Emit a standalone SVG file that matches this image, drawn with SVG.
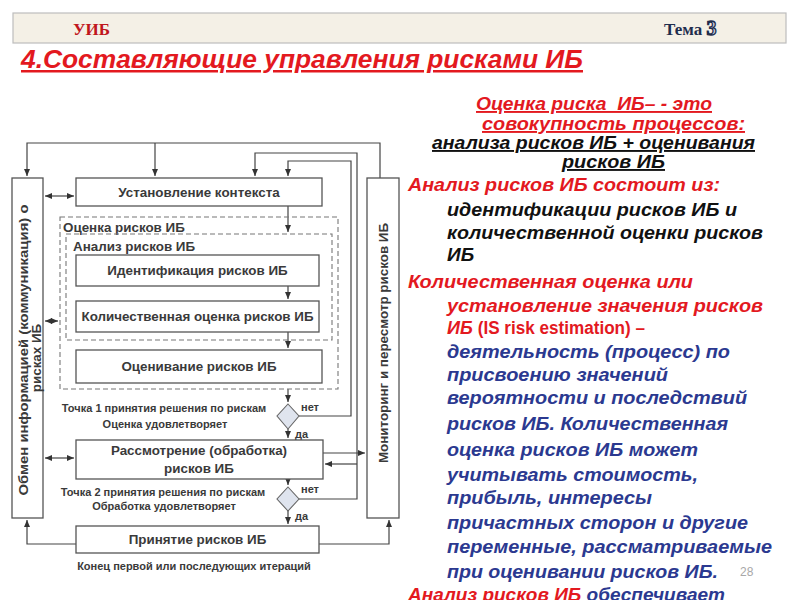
<svg xmlns="http://www.w3.org/2000/svg" width="800" height="600" viewBox="0 0 800 600">
<style>
.bx{fill:#fff;stroke:#555;stroke-width:1.3}
.dash{fill:none;stroke:#777;stroke-width:1.1;stroke-dasharray:5,3}
.dia{fill:#dfe4ee;stroke:#666;stroke-width:1.1}
.t{font-family:"Liberation Sans",Arial,sans-serif;font-weight:bold;fill:#3a3a3a;font-size:13.4px}
.c{text-anchor:middle}
.s{font-family:"Liberation Sans",Arial,sans-serif;font-weight:bold;fill:#3a3a3a;font-size:11px}
.ln{fill:none;stroke:#444;stroke-width:1.2}
.r{font-family:"Liberation Sans",Arial,sans-serif;font-weight:bold;font-style:italic;font-size:19px}
.red{fill:#e3191f}
.blk{fill:#111}
.blu{fill:#2b3990}
.u{text-decoration:underline}
</style>
<defs>
<marker id="ah" markerWidth="8" markerHeight="8" refX="7" refY="4" orient="auto-start-reverse" markerUnits="userSpaceOnUse">
<path d="M0,1 L7,4 L0,7 z" fill="#333"/>
</marker>
</defs>
<rect width="800" height="600" fill="#fff"/>

<g id="header">
<rect x="13" y="13" width="773" height="30" fill="#f4f0e6" stroke="#bdbdbd" stroke-width="1.2"/>
<text x="73" y="35" font-family="Liberation Serif,serif" font-weight="bold" font-size="17" fill="#c0161c">УИБ</text>
<text x="664" y="35" font-family="Liberation Serif,serif" font-weight="bold" font-size="17" fill="#1f2d4d">Тема <tspan font-size="20" fill="#c9d3e6" stroke="#1f2d4d" stroke-width="1.3">3</tspan></text>
</g>

<g id="title">
<text x="21" y="68" font-family="Liberation Sans,Arial,sans-serif" font-weight="bold" font-style="italic" font-size="25" fill="#e3191f" text-decoration="underline" textLength="562" lengthAdjust="spacingAndGlyphs">4.Составляющие управления рисками ИБ</text>
</g>

<g id="connectors">
<path class="ln" d="M380,178 V143 H27 V176" marker-end="url(#ah)"/>
<path class="ln" d="M155,143 V176" marker-end="url(#ah)"/>
<path class="ln" d="M299,416 H351 V161 H288 V176" marker-end="url(#ah)"/>
<path class="ln" d="M299,499 H357 V153 H255 V176" marker-end="url(#ah)"/>
<path class="ln" d="M357,464 H325" marker-end="url(#ah)"/>
<path class="ln" d="M45,196 H74" marker-start="url(#ah)" marker-end="url(#ah)"/>
<path class="ln" d="M45,321 H58" marker-start="url(#ah)" marker-end="url(#ah)"/>
<path class="ln" d="M45,458 H74" marker-start="url(#ah)" marker-end="url(#ah)"/>
<path class="ln" d="M288,206 V232" marker-end="url(#ah)"/>
<path class="ln" d="M288,286 V299" marker-end="url(#ah)"/>
<path class="ln" d="M288,332 V348" marker-end="url(#ah)"/>
<path class="ln" d="M288,389 V402" marker-end="url(#ah)"/>
<path class="ln" d="M288,429 V438" marker-end="url(#ah)"/>
<path class="ln" d="M288,479 V485" marker-end="url(#ah)"/>
<path class="ln" d="M288,511 V524" marker-end="url(#ah)"/>
<path class="ln" d="M323,453 H365" marker-end="url(#ah)"/>
<path class="ln" d="M76,544 H27 V520" marker-end="url(#ah)"/>
<path class="ln" d="M319,544 H389 V520" marker-end="url(#ah)"/>
</g>

<g id="comm">
<rect class="bx" x="12" y="178" width="31" height="340"/>
<text class="t c" transform="translate(28,350) rotate(-90)" textLength="291" lengthAdjust="spacingAndGlyphs">Обмен информацией (коммуникация) о</text>
<text class="t c" transform="translate(41,358) rotate(-90)">рисках ИБ</text>
</g>

<g id="monitor">
<rect class="bx" x="367" y="178" width="32" height="340"/>
<text class="t c" transform="translate(388,343) rotate(-90)">Мониторинг и пересмотр рисков ИБ</text>
</g>

<g id="context">
<rect class="bx" x="76" y="178" width="246" height="28"/>
<text class="t c" x="199" y="196.5">Установление контекста</text>
</g>

<g id="assessment">
<rect class="dash" x="60" y="217" width="278" height="172"/>
<text class="t" x="63" y="232">Оценка рисков ИБ</text>
</g>

<g id="analysis">
<rect class="dash" x="66" y="234" width="266" height="106"/>
<text class="t" x="73" y="251">Анализ рисков ИБ</text>
</g>

<g id="ident">
<rect class="bx" x="76" y="255" width="243" height="31"/>
<text class="t c" x="197.5" y="275">Идентификация рисков ИБ</text>
</g>

<g id="quant">
<rect class="bx" x="76" y="301" width="243" height="31"/>
<text class="t c" x="197.5" y="321">Количественная оценка рисков ИБ</text>
</g>

<g id="evaluation">
<rect class="bx" x="76" y="350" width="246" height="33"/>
<text class="t c" x="199" y="371">Оценивание рисков ИБ</text>
</g>

<g id="decision1">
<polygon class="dia" points="288,404 299,416 288,429 277,416"/>
<text class="s c" x="164" y="412">Точка 1 принятия решения по рискам</text>
<text class="s c" x="165" y="428">Оценка удовлетворяет</text>
<text class="s" x="301" y="411">нет</text>
<text class="s" x="295" y="438">да</text>
</g>

<g id="treatment">
<rect class="bx" x="76" y="440" width="247" height="39"/>
<text class="t c" x="199" y="455">Рассмотрение (обработка)</text>
<text class="t c" x="199" y="473">рисков ИБ</text>
</g>

<g id="decision2">
<polygon class="dia" points="288,487 299,499 288,511 277,499"/>
<text class="s c" x="163" y="496">Точка 2 принятия решения по рискам</text>
<text class="s c" x="164" y="510">Обработка удовлетворяет</text>
<text class="s" x="301" y="493">нет</text>
<text class="s" x="295" y="520">да</text>
</g>

<g id="acceptance">
<rect class="bx" x="76" y="526" width="243" height="27"/>
<text class="t c" x="197.5" y="544">Принятие рисков ИБ</text>
<text class="s c" x="194" y="570">Конец первой или последующих итераций</text>
</g>

<g id="text-right">
<text class="r red u" x="476" y="110" font-size="15.5" xml:space="preserve" textLength="236" lengthAdjust="spacingAndGlyphs">Оценка риска  ИБ– - это</text>
<text class="r red u" x="482" y="130" font-size="15.5" textLength="263" lengthAdjust="spacingAndGlyphs">совокупность процессов:</text>
<text class="r blk u" x="432" y="149" font-size="15.5" textLength="323" lengthAdjust="spacingAndGlyphs">анализа рисков ИБ + оценивания</text>
<text class="r blk u" x="562" y="168" font-size="15.5" textLength="103" lengthAdjust="spacingAndGlyphs">рисков ИБ</text>
<text class="r red" x="408" y="191" textLength="312" lengthAdjust="spacingAndGlyphs">Анализ рисков ИБ состоит из:</text>
<text class="r blk" x="447" y="216" textLength="290" lengthAdjust="spacingAndGlyphs">идентификации рисков ИБ и</text>
<text class="r blk" x="447" y="239" textLength="316" lengthAdjust="spacingAndGlyphs">количественной оценки рисков</text>
<text class="r blk" x="447" y="261">ИБ</text>
<text class="r red" x="408" y="288" textLength="285" lengthAdjust="spacingAndGlyphs">Количественная оценка или</text>
<text class="r red" x="447" y="312" textLength="316" lengthAdjust="spacingAndGlyphs">установление значения рисков</text>
<text class="r red" x="447" y="334" textLength="198" lengthAdjust="spacingAndGlyphs">ИБ <tspan font-style="normal" font-size="18">(IS risk estimation) –</tspan></text>
<text class="r blu" x="447" y="358" textLength="283" lengthAdjust="spacingAndGlyphs">деятельность (процесс) по</text>
<text class="r blu" x="447" y="381" textLength="221" lengthAdjust="spacingAndGlyphs">присвоению значений</text>
<text class="r blu" x="447" y="404" textLength="300" lengthAdjust="spacingAndGlyphs">вероятности и последствий</text>
<text class="r blu" x="447" y="430" textLength="281" lengthAdjust="spacingAndGlyphs">рисков ИБ. Количественная</text>
<text class="r blu" x="447" y="456" textLength="251" lengthAdjust="spacingAndGlyphs">оценка рисков ИБ может</text>
<text class="r blu" x="447" y="481" textLength="251" lengthAdjust="spacingAndGlyphs">учитывать стоимость,</text>
<text class="r blu" x="447" y="504" textLength="205" lengthAdjust="spacingAndGlyphs">прибыль, интересы</text>
<text class="r blu" x="447" y="529" textLength="301" lengthAdjust="spacingAndGlyphs">причастных сторон и другие</text>
<text class="r blu" x="447" y="553" textLength="325" lengthAdjust="spacingAndGlyphs">переменные, рассматриваемые</text>
<text class="r blu" x="447" y="578" textLength="271" lengthAdjust="spacingAndGlyphs">при оценивании рисков ИБ.</text>
<text x="740" y="576" font-family="Liberation Sans,Arial,sans-serif" font-size="12" fill="#a8a8a8">28</text>
<text class="r" x="408" y="601"><tspan class="red u">Анализ рисков ИБ</tspan><tspan class="blu"> обеспечивает</tspan></text>
</g>
</svg>
